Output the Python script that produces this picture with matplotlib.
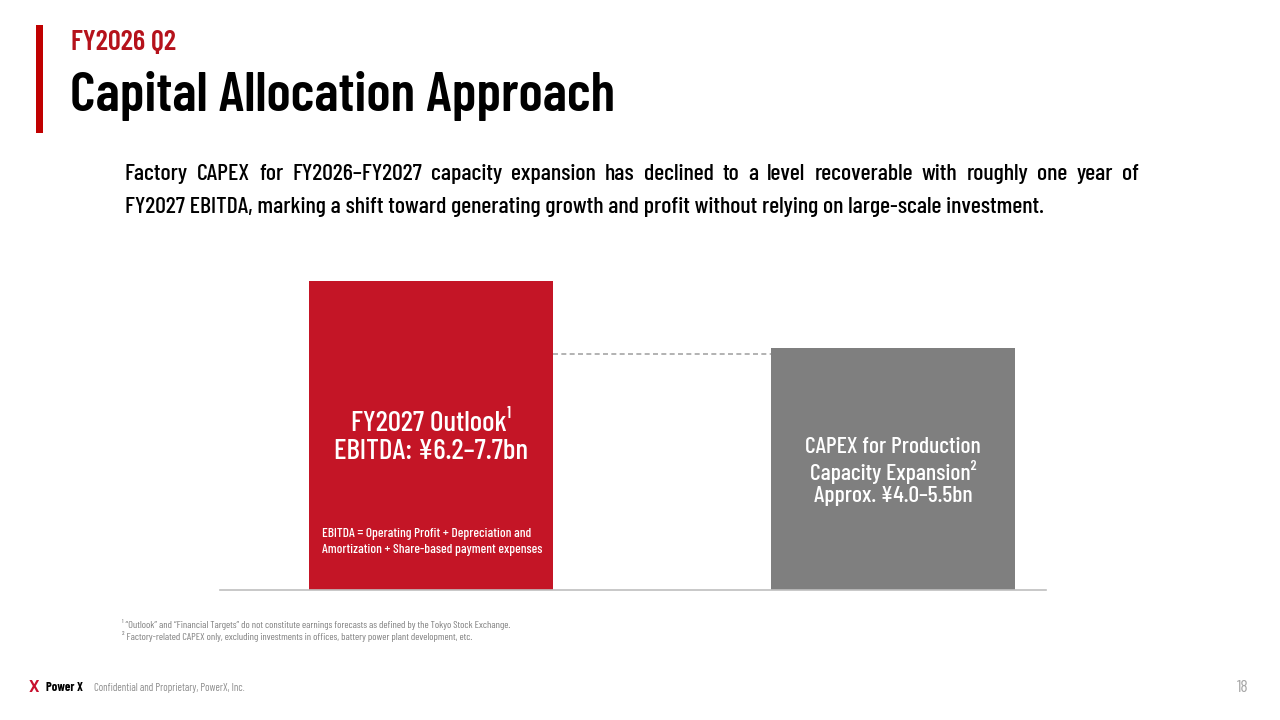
import matplotlib
matplotlib.use('Agg')
import matplotlib.pyplot as plt
from matplotlib.patches import Rectangle

# chart values (arbitrary units ~ ¥bn)
categories = ['EBITDA', 'CAPEX']
bar_values = [7.7, 6.03]
ref_level = 5.88          # dashed guide between the bars
bar_colors = ['#C41526', '#7F7F7F']

bar_titles = ['FY2027 Outlook¹\nEBITDA: ¥6.2–7.7bn',
              'CAPEX for Production\nCapacity Expansion²\nApprox. ¥4.0–5.5bn']
ebitda_note = 'EBITDA = Operating Profit + Depreciation and\nAmortization + Share-based payment expenses'

subtitle = 'FY2026 Q2'
title = 'Capital Allocation Approach'
body_line1 = ('Factory CAPEX for FY2026–FY2027 capacity expansion has declined to a level '
              'recoverable with roughly one year of')
body_line2 = ('FY2027 EBITDA, marking a shift toward generating growth and profit without '
              'relying on large-scale investment.')
footnotes = ['¹ “Outlook” and “Financial Targets” do not constitute earnings forecasts as defined by the Tokyo Stock Exchange.',
             '² Factory-related CAPEX only, excluding investments in offices, battery power plant development, etc.']
footer = 'Confidential and Proprietary, PowerX, Inc.'
page_no = '18'

RED = '#B5121B'
COND = ['Barlow Condensed', 'DejaVu Sans']
WIDE = ['Barlow', 'DejaVu Sans']

W, H = 1280, 720
fig = plt.figure(figsize=(W / 100, H / 100), dpi=100)
fig.patch.set_facecolor('white')
renderer = fig.canvas.get_renderer()


def px(x, y):
    return x / W, 1 - y / H


def fit(t, target):
    # shrink/grow a text so its width matches the slide
    w = t.get_window_extent(renderer).width
    t.set_fontsize(t.get_fontsize() * target / w)
    return t


# header
fig.patches.append(Rectangle(px(36, 133), 7 / W, 108 / H, transform=fig.transFigure,
                             color='#C00000', lw=0))
fig.text(*px(71, 50), subtitle, color=RED, family=COND, weight='semibold', fontsize=20.5,
         va='baseline')
t = fig.text(*px(70, 111), title, color='black', family=COND, weight='semibold', fontsize=44,
             va='baseline')
fit(t, 545)

# body paragraph, first line justified
t2 = fig.text(*px(125, 213), body_line2, family=COND, weight='medium', fontsize=16, va='baseline')
fit(t2, 923)
body_size = t2.get_fontsize()
words = body_line1.split(' ')
objs = [fig.text(0, 0, w, family=COND, weight='medium', fontsize=body_size, va='baseline')
        for w in words]
widths = [o.get_window_extent(renderer).width for o in objs]
left, right = 125, 1139
gap = (right - left - sum(widths)) / (len(words) - 1)
x = left
for o, w in zip(objs, widths):
    o.set_position(px(x, 180))
    x += w + gap

# bar chart
ax_l, ax_r, ax_b = 220, 1046, 590
ymax = 8.0
ax_h = 309 / bar_values[0] * ymax
ax = fig.add_axes([ax_l / W, 1 - ax_b / H, (ax_r - ax_l) / W, ax_h / H])
pos = [0, 1]
width = 244 / 462
ax.bar(pos, bar_values, width=width, color=bar_colors, zorder=2)
ax.set_xlim(-211 / 462, 1 + 153 / 462)
ax.set_ylim(0, ymax)
for s in ['top', 'right', 'left']:
    ax.spines[s].set_visible(False)
ax.spines['bottom'].set_color('#BFBFBF')
ax.spines['bottom'].set_linewidth(1.2)
ax.set_xticks([])
ax.set_yticks([])
ax.hlines(ref_level, pos[0] + width / 2, pos[1] - width / 2, colors='#A6A6A6',
          linestyles=(0, (3, 2)), lw=1.2)

ax.text(pos[0], 3.8, bar_titles[0], ha='center', va='center', color='white',
        family=COND, weight='medium', fontsize=21, linespacing=1.1)
ax.text(pos[0] - width / 2 + 13 / 462, 1.2, ebitda_note, ha='left', va='center', color='white',
        family=COND, weight='medium', fontsize=9.6, linespacing=1.4)
ax.text(pos[1], 2.95, bar_titles[1], ha='center', va='center', color='white',
        family=COND, weight='medium', fontsize=17, linespacing=1.15)

# footnotes and footer
fig.text(*px(122, 628), footnotes[0], color='#7F7F7F', family=COND, fontsize=7.4, va='baseline')
fig.text(*px(122, 640), footnotes[1], color='#7F7F7F', family=COND, fontsize=7.4, va='baseline')
fig.text(*px(29, 692), 'X', color='#C8102E', family=WIDE, weight='bold', fontsize=12, va='baseline')
fig.text(*px(46, 691), 'Power X', color='black', family=COND, weight='bold', fontsize=9, va='baseline')
fig.text(*px(94, 691), footer, color='#8C8C8C', family=COND, fontsize=7.75, va='baseline')
fig.text(*px(1249, 692), page_no, color='#A6A6A6', family=COND, fontsize=12.5, va='baseline', ha='right')

fig.savefig('out.png', dpi=100, facecolor='white')
